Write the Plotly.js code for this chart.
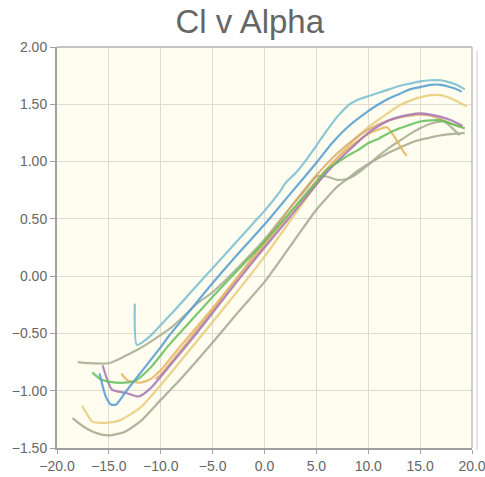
<!DOCTYPE html>
<html><head><meta charset="utf-8">
<script src="https://cdn.plot.ly/plotly-3.0.1.min.js"></script>
<style>html,body{margin:0;padding:0;background:#fff;}#chart{width:485px;height:477px;}</style>
</head><body><div id="chart"></div>
<script>
// Series: angle of attack (deg) and lift coefficient
const tealAlpha = [-12.5,-12.3,-11.1,-9,-7,-5,-3,-1,0,1.5,2,3,3.9,5,6,7,8.2,9,10,11,12,13,14,15,16,17,17.5,18.5,19.3];
const tealCl    = [-0.24,-0.60,-0.53,-0.33,-0.13,0.07,0.27,0.47,0.57,0.74,0.81,0.90,1.00,1.14,1.27,1.39,1.50,1.54,1.57,1.60,1.63,1.66,1.68,1.70,1.71,1.71,1.70,1.67,1.63];

const blueAlpha = [-15.9,-15.3,-14.8,-14.3,-13.3,-12,-10,-9.2,-7,-5,-2.5,0,2.5,5,6.5,8,10,11,12,13,14,15,16,17,17.5,18.3,19];
const blueCl    = [-0.85,-1.05,-1.12,-1.12,-1.00,-0.85,-0.62,-0.52,-0.28,-0.06,0.20,0.45,0.72,0.99,1.16,1.30,1.44,1.50,1.55,1.59,1.63,1.65,1.67,1.67,1.66,1.64,1.61];

const greenAlpha = [-16.6,-15.8,-15,-13.5,-12.4,-11,-9.2,-6.5,-5,-2.5,0,2.5,5,6,7,8,9,10,11,12,13,14,15,16,17,18,19.3];
const greenCl    = [-0.84,-0.90,-0.92,-0.93,-0.91,-0.80,-0.60,-0.33,-0.18,0.06,0.30,0.56,0.82,0.93,0.99,1.05,1.10,1.16,1.20,1.25,1.29,1.32,1.35,1.36,1.36,1.33,1.29];

const purpleAlpha = [-15.6,-14.7,-13.3,-12.1,-11,-9.2,-7,-5,-2.5,0,2.5,5,7,9,10,11,12,13,14,15,16,17,18,19.1];
const purpleCl    = [-0.78,-0.99,-1.02,-1.05,-0.98,-0.79,-0.55,-0.32,-0.03,0.25,0.52,0.80,1.00,1.17,1.25,1.31,1.36,1.39,1.41,1.42,1.41,1.39,1.36,1.31];

const yellowAlpha = [-17.6,-17,-16.6,-15.3,-14,-12,-10,-7,-5,-2.5,0,3.4,5,7,8,10,12,13,14,15,16,17,18,19.5];
const yellowCl    = [-1.13,-1.22,-1.27,-1.28,-1.26,-1.15,-0.95,-0.62,-0.40,-0.12,0.17,0.60,0.80,1.03,1.13,1.30,1.43,1.49,1.53,1.56,1.58,1.58,1.55,1.48];

const orangeAlpha = [-13.8,-13.2,-12,-11,-10,-8,-5,-2.5,0,2.5,5,7,9,10,11,11.8,12.5,13.3,13.7];
const orangeCl    = [-0.85,-0.91,-0.93,-0.90,-0.82,-0.60,-0.28,0.00,0.27,0.55,0.83,1.03,1.18,1.24,1.28,1.30,1.22,1.10,1.05];

const tanAlpha = [-10.5,-10,-8,-5,-2.5,0,2.5,5,7,9,10,12,14,15,16,17,18,19];
const tanCl    = [-0.90,-0.86,-0.64,-0.30,0.00,0.30,0.60,0.88,1.07,1.22,1.28,1.36,1.40,1.41,1.40,1.37,1.33,1.30];

const greyAlpha = [-18,-17,-15,-13.5,-12,-9,-6.5,-5,-2.5,0,2.5,4,5,6,7,8,8.5,9,10,11,12,13,14,15,16,17.3,18,18.8];
const greyCl    = [-0.75,-0.76,-0.76,-0.70,-0.63,-0.45,-0.24,-0.14,0.08,0.32,0.60,0.76,0.87,0.87,0.84,0.85,0.87,0.90,0.97,1.05,1.12,1.18,1.24,1.29,1.33,1.35,1.30,1.23];

const lowAlpha = [-18.5,-17.5,-16.2,-15,-13.5,-12,-10,-7.9,-5,-2.5,0,2,3.4,5,7,8,9,10,11,12,13,14,15,16,17,18,19.3];
const lowCl    = [-1.24,-1.31,-1.37,-1.39,-1.36,-1.27,-1.08,-0.88,-0.58,-0.31,-0.05,0.20,0.38,0.58,0.78,0.85,0.92,0.98,1.03,1.08,1.12,1.16,1.19,1.21,1.23,1.24,1.25];

const xTicks = [-20,-15,-10,-5,0,5,10,15,20];
const yTicks = [-1.5,-1.0,-0.5,0,0.5,1.0,1.5,2.0];

const series = [
  {x: lowAlpha, y: lowCl, c: 'rgba(160,168,140,0.85)'},
  {x: greyAlpha, y: greyCl, c: 'rgba(165,172,145,0.85)'},
  {x: yellowAlpha, y: yellowCl, c: 'rgba(232,205,120,0.85)'},
  {x: tanAlpha, y: tanCl, c: 'rgba(215,165,105,0.8)'},
  {x: orangeAlpha, y: orangeCl, c: 'rgba(230,180,95,0.85)'},
  {x: purpleAlpha, y: purpleCl, c: 'rgba(165,115,180,0.85)'},
  {x: greenAlpha, y: greenCl, c: 'rgba(100,190,90,0.85)'},
  {x: blueAlpha, y: blueCl, c: 'rgba(90,160,210,0.9)'},
  {x: tealAlpha, y: tealCl, c: 'rgba(125,192,210,0.9)'}
];

const traces = series.map(s => ({
  x: s.x, y: s.y, type: 'scatter', mode: 'lines',
  line: {color: s.c, width: 2.2, shape: 'spline', smoothing: 0.6},
  hoverinfo: 'skip', showlegend: false
}));

const layout = {
  width: 485, height: 477,
  margin: {l: 57, r: 13, t: 47, b: 29},
  paper_bgcolor: '#ffffff',
  plot_bgcolor: '#fffcf0',
  title: {text: 'Cl v Alpha', font: {family: 'Liberation Sans, Arial, sans-serif', size: 33, color: '#666666'},
          x: 0.515, xref: 'container', y: 0.955, yref: 'container', yanchor: 'middle'},
  xaxis: {range: [-20, 20], tickvals: xTicks, tickformat: '.1f', ticklabeloverflow: 'allow',
          showgrid: true, gridcolor: '#dedbd3', gridwidth: 1, zeroline: false,
          showline: true, linecolor: '#a0a0a0', linewidth: 2, mirror: false,
          ticks: 'outside', ticklen: 4, tickcolor: '#a0a0a0',
          tickfont: {family: 'Liberation Sans, Arial, sans-serif', size: 14, color: '#666666'}},
  yaxis: {range: [-1.5, 2.0], tickvals: yTicks, tickformat: '.2f', ticklabeloverflow: 'allow',
          showgrid: true, gridcolor: '#dedbd3', gridwidth: 1, zeroline: false,
          showline: true, linecolor: '#a0a0a0', linewidth: 2, mirror: false,
          ticks: 'outside', ticklen: 5, tickcolor: '#a0a0a0',
          tickfont: {family: 'Liberation Sans, Arial, sans-serif', size: 14, color: '#666666'}},
  shapes: [
    {type: 'line', xref: 'paper', yref: 'paper', x0: 0, x1: 1, y0: 1, y1: 1, line: {color: '#b0b0b0', width: 1.5}},
    {type: 'line', xref: 'paper', yref: 'paper', x0: 1, x1: 1, y0: 0, y1: 1, line: {color: '#c0c0c0', width: 1.5}},
    {type: 'line', xref: 'paper', yref: 'paper', x0: 1.012, x1: 1.012, y0: -0.005, y1: 0.99, line: {color: '#e4e4e4', width: 2}}
  ]
};

Plotly.newPlot('chart', traces, layout, {displayModeBar: false, staticPlot: true});
</script>
</body></html>
